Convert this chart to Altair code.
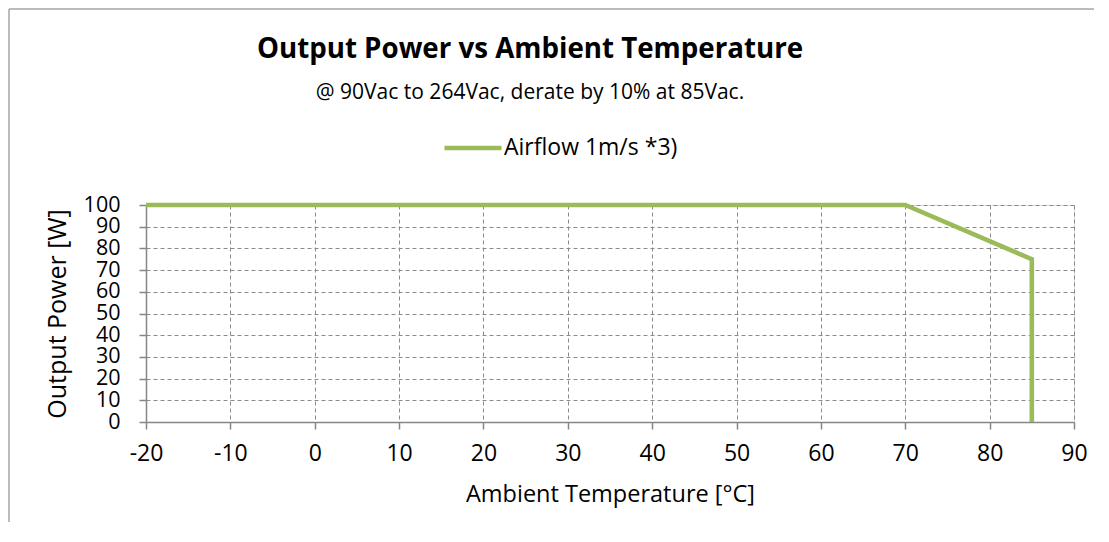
import altair as alt
import pandas as pd

# Data
temperature = [-20, 70, 85, 85]
output_power = [100, 100, 75, 0]
series_name = "Airflow 1m/s *3)"
x_tick_values = [-20, -10, 0, 10, 20, 30, 40, 50, 60, 70, 80, 90]
y_tick_values = [0, 10, 20, 30, 40, 50, 60, 70, 80, 90, 100]

df = pd.DataFrame({
    "temp": temperature,
    "power": output_power,
    "series": [series_name] * len(temperature),
    "order": list(range(len(temperature))),
})

FONT = "Open Sans"
AXIS_GREY = "#868686"
GRID_GREY = "#8A8A8A"
GREEN = "#9BBB59"

grid_style = dict(grid=True, gridColor=GRID_GREY, gridDash=[4, 3], gridWidth=1, gridOpacity=1,
                  domainColor=AXIS_GREY, domainWidth=1.5, tickColor=AXIS_GREY, tickWidth=1.5,
                  labelColor="#000000", titleColor="#000000", labelFont=FONT, titleFont=FONT)

line = alt.Chart(df).mark_line(strokeWidth=4.6, strokeCap="butt", strokeJoin="miter").encode(
    x=alt.X("temp:Q",
            scale=alt.Scale(domain=[-20, 90], nice=False, zero=False),
            axis=alt.Axis(values=x_tick_values, title="Ambient Temperature [°C]",
                          labelExpr="'' + datum.value",
                          labelFontSize=23, titleFontSize=23.5, titleFontWeight="normal",
                          labelPadding=13, titlePadding=17, tickSize=7,
                          labelFlush=False, labelOverlap=False, **grid_style)),
    y=alt.Y("power:Q",
            scale=alt.Scale(domain=[0, 100], nice=False),
            axis=alt.Axis(values=y_tick_values, title="Output Power [W]",
                          labelExpr="'' + datum.value",
                          labelFontSize=21.5, titleFontSize=25, titleFontWeight="normal",
                          labelPadding=19, titlePadding=13, tickSize=7,
                          labelFlush=False, labelOverlap=False, **grid_style)),
    order="order:O",
    color=alt.Color("series:N",
                    scale=alt.Scale(domain=[series_name], range=[GREEN]),
                    legend=alt.Legend(title=None, orient="none", legendX=296, legendY=-88,
                                      symbolType="stroke", symbolSize=3250,
                                      symbolStrokeWidth=4.6, labelFontSize=23, labelLimit=0,
                                      labelOffset=0, labelFont=FONT, labelColor="#000000")),
)

frame_df = pd.DataFrame({"k": [0]})
frame_left = alt.Chart(frame_df).mark_rule(color="#A6A6A6", strokeWidth=1.5).encode(
    x=alt.value(-137), y=alt.value(-196), y2=alt.value(320))
frame_top = alt.Chart(frame_df).mark_rule(color="#A6A6A6", strokeWidth=1.5).encode(
    x=alt.value(-137), x2=alt.value(960), y=alt.value(-196))

chart = alt.layer(frame_left, frame_top, line).properties(
    width=928, height=217,
    title=alt.TitleParams(
        text="Output Power vs Ambient Temperature",
        subtitle="@ 90Vac to 264Vac, derate by 10% at 85Vac.",
        anchor="middle", frame="group", dx=-80, offset=-95,
        fontSize=27.7, font=FONT, fontWeight="bold", color="#000000",
        subtitleFontSize=21, subtitleFont=FONT, subtitleColor="#000000",
        subtitlePadding=19,
    ),
    autosize=alt.AutoSizeParams(type="none"),
    padding={"left": 138, "top": 197, "right": 20, "bottom": 100},
).configure_view(stroke=None).configure(background="white")

chart.save("out.html", embed_options={"renderer": "svg", "actions": False})
